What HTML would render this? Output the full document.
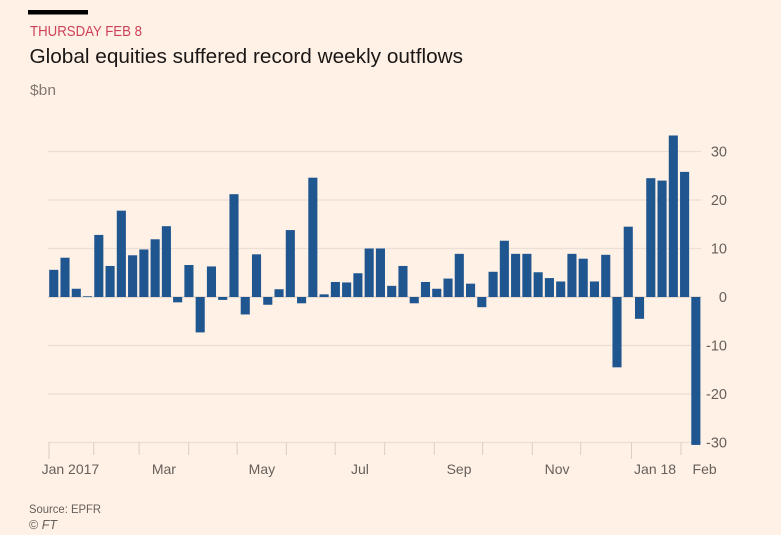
<!DOCTYPE html>
<html lang="en">
<head>
<meta charset="utf-8">
<title>Global equities suffered record weekly outflows</title>
<style>
html,body{margin:0;padding:0;background:#fff1e5;}
svg{display:block;font-family:"Liberation Sans",sans-serif;}
</style>
</head>
<body>
<svg id="chart" xmlns="http://www.w3.org/2000/svg" width="781" height="535" viewBox="0 0 781 535">
  <rect x="0" y="0" width="781" height="535" fill="#fff1e5"/>
  <rect x="28" y="10" width="60" height="4.5" fill="#000"/>
  <text x="30" y="36" font-size="14.5" fill="#cc4259" textLength="112" lengthAdjust="spacingAndGlyphs">THURSDAY FEB 8</text>
  <text x="29.5" y="63" font-size="20" fill="#1a1716" textLength="433.5" lengthAdjust="spacingAndGlyphs">Global equities suffered record weekly outflows</text>
  <text x="30" y="95" font-size="15" fill="#807973" textLength="26" lengthAdjust="spacingAndGlyphs">$bn</text>
  <g id="grid"></g>
  <g id="xaxis"></g>
  <g id="bars"></g>
  <g id="yaxis"></g>
  <text x="29" y="513" font-size="12" fill="#66605c" textLength="72" lengthAdjust="spacingAndGlyphs">Source: EPFR</text>
  <text x="29" y="529" font-size="12.5" fill="#66605c">© <tspan font-style="italic">FT</tspan></text>
</svg>
<script>
const flows = [5.6,8.1,1.7,0.15,12.8,6.4,17.8,8.6,9.8,11.9,14.6,-1.1,6.6,-7.3,6.3,-0.6,21.2,-3.6,8.8,-1.6,1.6,13.8,-1.3,24.6,0.55,3.1,3.0,4.9,10,10,2.3,6.4,-1.3,3.1,1.7,3.8,8.9,2.75,-2.1,5.2,11.6,8.9,8.9,5.1,3.9,3.2,8.9,7.9,3.2,8.7,-14.5,14.5,-4.5,24.5,24,33.3,25.8,-30.5];
const yTicks = [30,20,10,0,-10,-20,-30];
const monthStarts = [0,3.97,8,12.4,16.7,21.07,25.4,29.8,34.2,38.5,42.9,47.2,51.7,56.1];
const yearStarts = [0,51.7];
const xLabels = ["Jan 2017","Mar","May","Jul","Sep","Nov","Jan 18","Feb"];
const xLabelWeeks = [1.9,10.2,18.9,27.6,36.4,45.1,53.8,58.2];

const NS = "http://www.w3.org/2000/svg";
function y(v){ return 297 + (0 - v) * 4.85; }
function x(w){ return 49 + w * 11.265; }
function make(tag, attrs, parent){
  const el = document.createElementNS(NS, tag);
  for (const k in attrs) el.setAttribute(k, attrs[k]);
  parent.appendChild(el);
  return el;
}
const gridG = document.getElementById('grid');
const yG = document.getElementById('yaxis');
const xG = document.getElementById('xaxis');
const barG = document.getElementById('bars');

yTicks.forEach(function(t){
  const line = make('line', {x1:48, x2:701.5, y1:y(t), y2:y(t), stroke: t === 0 ? '#d9cec6' : '#ebe0d7', 'stroke-width':1.2}, gridG);
  
  
  const label = make('text', {x:727, y:y(t)+5, 'text-anchor':'end', 'font-size':14.5, fill:'#66605c'}, yG);
  
  
  label.textContent = t;
});

monthStarts.forEach(function(w){
  const long = yearStarts.indexOf(w) >= 0;
  const tick = make('line', {x1:x(w), x2:x(w), y1:y(-30), y2: long ? 459 : 455, stroke:'#d9cec6', 'stroke-width':1}, xG);
  
  
});

xLabels.forEach(function(name, i){
  const label = make('text', {x:x(xLabelWeeks[i]), y:474, 'text-anchor':'middle', 'font-size':14, fill:'#66605c'}, xG);
  
  
  label.textContent = name;
});

flows.forEach(function(v, i){
  const top = Math.min(y(v), y(0));
  const h = Math.abs(y(v) - y(0));
  const bar = make('rect', {x:x(i)+0.2, y:top, width:9.1, height:h, fill:'#1f5690'}, barG);
  
  
});
</script>
</body>
</html>
